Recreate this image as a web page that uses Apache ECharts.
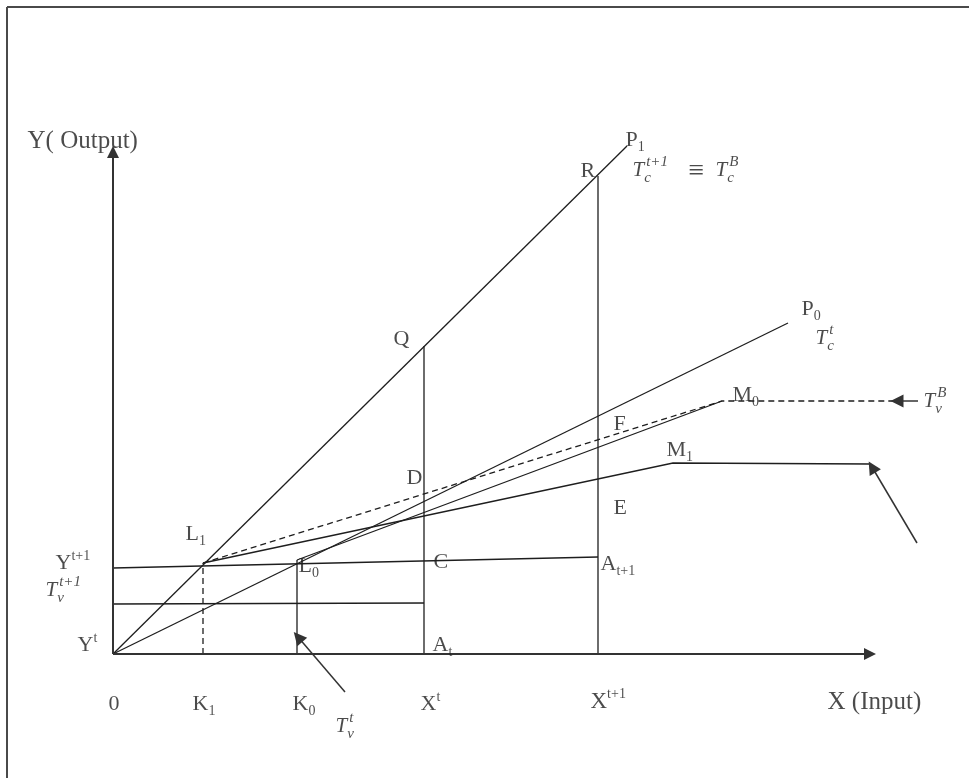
<!DOCTYPE html>
<html><head><meta charset="utf-8">
<script src="https://cdn.jsdelivr.net/npm/echarts@6/dist/echarts.min.js"></script>
<style>html,body{margin:0;padding:0;background:#fff}#c{width:969px;height:778px}</style>
</head><body><div id="c"></div>
<script>
// Diagram units: origin at the axes' corner, x to the right (input), y upward (output)
const O = [0, 0];
const L1 = [90, 91];
const L0 = [184, 94];
const Q = [311, 308];
const R = [485, 478];
const P1end = [514, 508];
const P0end = [675, 331];
const M0 = [609, 253];
const M0end = [784, 253];
const M1 = [560, 191];
const M1end = [758, 190];
const Yt1Start = [0, 86];
const At1 = [485, 97];
const Tv1Start = [0, 50];
const Tv1End = [311, 51];
const K1 = [90, 0];
const K0 = [184, 0];
const Xt = [311, 0];
const Xt1 = [485, 0];
const yAxisEnd = [0, 502];
const xAxisEnd = [757, 0];
const arrowTvB = [[805, 253], [784, 253]];
const arrowM1 = [[804, 111], [759, 187]];
const arrowTvt = [[232, -38], [185, 17]];

// labels: [base, subscript, superscript, x, y, baseSize, italic]
const labels = [
  ['Y( Output)', '', '', -86, 513, 25, 0],
  ['P', '1', '', 512, 514, 22, 0],
  ['R', '', '', 467, 483, 22, 0],
  ['T', 'c', 't+1', 519, 484, 21, 1],
  ['\u2261', '', '', 575, 482, 28, 0],
  ['T', 'c', 'B', 602, 484, 21, 1],
  ['Q', '', '', 280, 315, 22, 0],
  ['P', '0', '', 688, 345, 22, 0],
  ['T', 'c', 't', 702, 316, 21, 1],
  ['M', '0', '', 619, 259, 22, 0],
  ['T', 'v', 'B', 810, 253, 21, 1],
  ['F', '', '', 500, 230, 22, 0],
  ['M', '1', '', 553, 204, 22, 0],
  ['D', '', '', 293, 176, 22, 0],
  ['E', '', '', 500, 146, 22, 0],
  ['L', '1', '', 72, 120, 22, 0],
  ['Y', '', 't+1', -58, 91, 22, 0],
  ['T', 'v', 't+1', -68, 64, 21, 1],
  ['L', '0', '', 185, 88, 22, 0],
  ['C', '', '', 320, 92, 22, 0],
  ['A', 't+1', '', 487, 90, 22, 0],
  ['Y', '', 't', -36, 9, 22, 0],
  ['A', 't', '', 319, 9, 22, 0],
  ['0', '', '', -5, -50, 22, 0],
  ['K', '1', '', 79, -50, 22, 0],
  ['K', '0', '', 179, -50, 22, 0],
  ['X', '', 't', 307, -50, 22, 0],
  ['X', '', 't+1', 477, -48, 23, 0],
  ['X (Input)', '', '', 714, -48, 25, 0],
  ['T', 'v', 't', 222, -72, 21, 1]
];

const solidSegments = [
  [O, P1end], [O, P0end], [L0, M0], [L1, M1, M1end],
  [Yt1Start, At1], [Tv1Start, Tv1End],
  [K0, L0], [Xt, Q], [Xt1, R]
];
const dashedSegments = [[L1, M0, M0end], [K1, L1]];
const axisSegments = [[O, yAxisEnd], [O, xAxisEnd]];
const pointerSegments = [arrowTvB, arrowM1, arrowTvt];

const FONT = 'Liberation Serif';
const INK = '#1e1e1e';
const toLines = segs => segs.map(s => ({coords: s}));

function labelItems(l) {
  const [base, sub, sup, x, y, size, it] = l;
  const st = it ? 'italic' : 'normal';
  const lh = it ? 31 : Math.round(size * 1.25);
  const ss = it ? 15 : 14;
  const rich = {
    b: {fontFamily: FONT, fontSize: size, fontStyle: st, color: INK, lineHeight: lh, verticalAlign: 'middle'},
    h: {fontFamily: FONT, fontSize: size, fontStyle: st, color: 'rgba(0,0,0,0)', lineHeight: lh, verticalAlign: 'middle'},
    sb: {fontFamily: FONT, fontSize: ss, fontStyle: st, color: INK, lineHeight: ss, verticalAlign: 'bottom',
         padding: [0, 0, 0, it ? 0 : 0]},
    sp: {fontFamily: FONT, fontSize: ss, fontStyle: st, color: INK, lineHeight: ss, verticalAlign: 'top',
         padding: [0, 0, 0, it ? 2 : 0]}
  };
  const mk = fmt => ({
    name: base, value: [x, y],
    label: {show: true, position: 'right', distance: 0, formatter: fmt, rich: rich, lineHeight: lh}
  });
  const out = [];
  if (sub && sup) {
    out.push(mk('{b|' + base + '}{sp|' + sup + '}'));
    out.push(mk('{h|' + base + '}{sb|' + sub + '}'));
  } else if (sub) {
    out.push(mk('{b|' + base + '}{sb|' + sub + '}'));
  } else if (sup) {
    out.push(mk('{b|' + base + '}{sp|' + sup + '}'));
  } else {
    out.push(mk('{b|' + base + '}'));
  }
  return out;
}

const chart = echarts.init(document.getElementById('c'), null, {renderer: 'canvas'});
chart.setOption({
  animation: false,
  backgroundColor: '#fff',
  grid: {left: 0, right: 0, top: 0, bottom: 0},
  xAxis: {type: 'value', min: -113, max: 856, show: false},
  yAxis: {type: 'value', min: -124, max: 654, show: false},
  graphic: [
    {type: 'line', shape: {x1: 7, y1: 7, x2: 969, y2: 7}, style: {stroke: '#4a4a4a', lineWidth: 2}},
    {type: 'line', shape: {x1: 7, y1: 7, x2: 7, y2: 778}, style: {stroke: '#4a4a4a', lineWidth: 2}}
  ],
  series: [
    {type: 'lines', coordinateSystem: 'cartesian2d', polyline: true, silent: true,
     lineStyle: {color: INK, width: 1.3, opacity: 1}, data: toLines(solidSegments)},
    {type: 'lines', coordinateSystem: 'cartesian2d', polyline: true, silent: true,
     lineStyle: {color: INK, width: 1.3, opacity: 1, type: [6, 4]}, data: toLines(dashedSegments)},
    {type: 'lines', coordinateSystem: 'cartesian2d', silent: true,
     symbol: ['none', 'triangle'], symbolSize: [9, 12],
     lineStyle: {color: '#333', width: 2, opacity: 1}, itemStyle: {color: '#1a1a1a'},
     data: toLines(axisSegments)},
    {type: 'lines', coordinateSystem: 'cartesian2d', silent: true,
     symbol: ['none', 'triangle'], symbolSize: [10, 13],
     lineStyle: {color: '#333', width: 1.5, opacity: 1}, itemStyle: {color: '#1a1a1a'},
     data: toLines(pointerSegments)},
    {type: 'scatter', silent: true, clip: false, symbolSize: 1,
     itemStyle: {color: 'rgba(0,0,0,0)'},
     data: labels.flatMap(labelItems)}
  ]
});
</script></body></html>
